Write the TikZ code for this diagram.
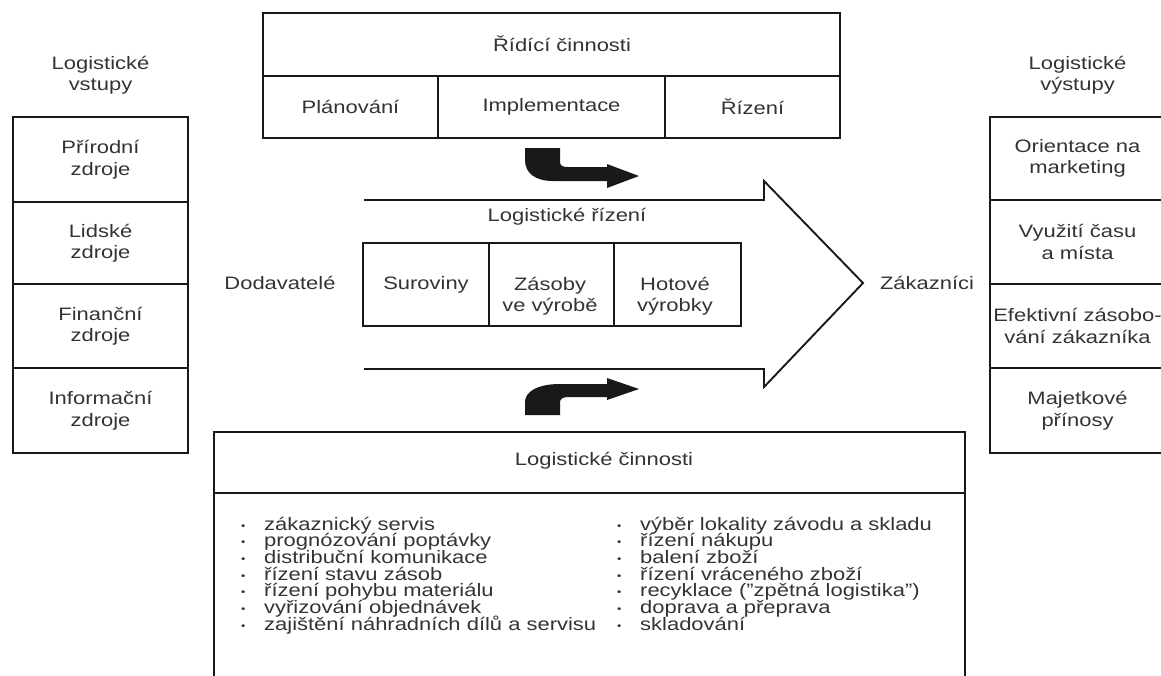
\documentclass[tikz,border=0pt]{standalone}
\usepackage{fontspec}
\setmainfont[FakeStretch=1.22]{Liberation Sans}
\definecolor{inkc}{gray}{0.1}
\definecolor{txtc}{gray}{0.2}
\newcommand\lblfont{\fontsize{18}{21.5}\selectfont}
\newcommand\itemfont{\fontsize{18}{17}\selectfont}
\newcommand\bul{\llap{\raisebox{1pt}{\fontsize{10}{10}\selectfont •}\hspace{18.7pt}}}
\begin{document}
\begin{tikzpicture}[x=1pt,y=-1pt,
  frame/.style={draw=inkc, line width=1.9pt},
  cell/.style={frame, inner sep=0pt, align=center, text=txtc, font=\lblfont},
  lbl/.style={inner sep=0pt, align=center, text=txtc, font=\lblfont},
  item/.style={inner sep=0pt, anchor=base west, text=txtc, font=\itemfont},
  turn/.style={fill=inkc, draw=none}]
\useasboundingbox (0,0) rectangle (1161,675);
\clip (0,0) rectangle (1161,675);

% control activities
\node[cell, minimum width=577pt, minimum height=63pt] (ctrl) at (551.5,44.5) {};
\node[lbl] (ctrlT) at (562,44) {Řídící činnosti};
\node[cell, minimum width=175pt, minimum height=62pt] (plan) at (350.5,107) {Plánování};
\node[cell, minimum width=227pt, minimum height=62pt] (impl) at (551.5,107) {Implementace};
\node[cell, minimum width=175pt, minimum height=62pt] (riz) at (752.5,107) {Řízení};

% inputs
\node[lbl] (inT) at (100.5,75) {Logistické\\vstupy};
\node[cell, minimum width=175pt, minimum height=85pt] (in1) at (100.5,159.5) {Přírodní\\zdroje};
\node[cell, minimum width=175pt, minimum height=82pt] (in2) at (100.5,243) {Lidské\\zdroje};
\node[cell, minimum width=175pt, minimum height=84pt] (in3) at (100.5,326) {Finanční\\zdroje};
\node[cell, minimum width=175pt, minimum height=85pt] (in4) at (100.5,410.5) {Informační\\zdroje};

% outputs
\node[lbl] (outT) at (1077.5,75) {Logistické\\výstupy};
\node[cell, minimum width=175pt, minimum height=83pt] (out1) at (1077.5,158.5) {Orientace na\\marketing};
\node[cell, minimum width=175pt, minimum height=84pt] (out2) at (1077.5,242) {Využití času\\a místa};
\node[cell, minimum width=175pt, minimum height=84pt, text width=175pt] (out3) at (1077.5,326) {Efektivní zásobo-\\vání zákazníka};
\node[cell, minimum width=175pt, minimum height=85pt] (out4) at (1077.5,410.5) {Majetkové\\přínosy};

% main flow arrow
\draw[frame, line join=miter] (364,200) -- (764,200) -- (764,181) -- (863,283)
  -- (764,387) -- (764,369) -- (364,369);
\node[lbl] (flowT) at (567,217) {Logistické řízení};
\node[lbl] (sup) at (280,283) {Dodavatelé};
\node[lbl] (cust) at (927,283) {Zákazníci};

\node[cell, minimum width=126pt, minimum height=83pt] (raw) at (426,284.5) {Suroviny};
\node[cell, minimum width=125pt, minimum height=83pt] (wip) at (551.5,284.5) {};
\node[cell, minimum width=127pt, minimum height=83pt] (fin) at (677.5,284.5) {};
\node[lbl] (wipT) at (550,296) {Zásoby\\ve výrobě};
\node[lbl] (finT) at (675,296) {Hotové\\výrobky};

% bent arrows
\fill[turn] (525,148) -- (560,148) -- (560,162) .. controls (560,166) and (563,167) .. (568,167)
  -- (607,167) -- (607,164) -- (639,176) -- (607,188) -- (607,181) -- (553,181)
  .. controls (535,181) and (525,173) .. (525,160) -- cycle;
\fill[turn] (525,415) -- (560,415) -- (560,402) .. controls (560,399) and (563,397) .. (568,397)
  -- (607,397) -- (607,400) -- (639,389) -- (607,378) -- (607,384) -- (560,384)
  .. controls (537,384) and (525,392) .. (525,402) -- cycle;

% logistic activities
\node[cell, minimum width=751pt, minimum height=61pt] (act) at (589.5,462.5) {};
\node[lbl] (actT) at (604,461) {Logistické činnosti};
\node[cell, minimum width=751pt, minimum height=207pt] (actL) at (589.5,596.5) {};

\node[item] (a1) at (264,530) {\bul zákaznický servis};
\node[item] (a2) at (264,546.7) {\bul prognózování poptávky};
\node[item] (a3) at (264,563.4) {\bul distribuční komunikace};
\node[item] (a4) at (264,580.1) {\bul řízení stavu zásob};
\node[item] (a5) at (264,596.8) {\bul řízení pohybu materiálu};
\node[item] (a6) at (264,613.5) {\bul vyřizování objednávek};
\node[item] (a7) at (264,630.2) {\bul zajištění náhradních dílů a servisu};

\node[item] (b1) at (640,530) {\bul výběr lokality závodu a skladu};
\node[item] (b2) at (640,546.7) {\bul řízení nákupu};
\node[item] (b3) at (640,563.4) {\bul balení zboží};
\node[item] (b4) at (640,580.1) {\bul řízení vráceného zboží};
\node[item] (b5) at (640,596.8) {\bul recyklace (\char34 zpětná logistika\char34)};
\node[item] (b6) at (640,613.5) {\bul doprava a přeprava};
\node[item] (b7) at (640,630.2) {\bul skladování};
\end{tikzpicture}
\end{document}
